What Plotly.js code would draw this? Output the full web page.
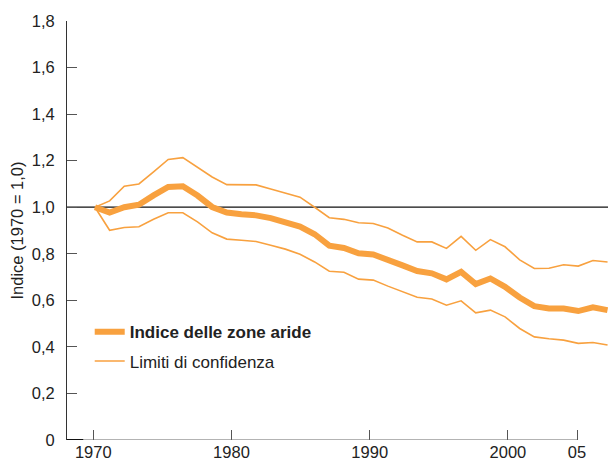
<!DOCTYPE html>
<html>
<head>
<meta charset="utf-8">
<script src="https://cdn.plot.ly/plotly-3.0.1.min.js"></script>
<style>html,body{margin:0;padding:0;background:#fff;}#chart{width:614px;height:461px;}</style>
</head>
<body>
<div id="chart"></div>
<script>
const years = [1970,1971,1972,1973,1974,1975,1976,1977,1978,1979,
  1980,1981,1982,1983,1984,1985,1986,1987,1988,1989,
  1990,1991,1992,1993,1994,1995,1996,1997,1998,1999,
  2000,2001,2002,2003,2004,2005];
const indice = [1.0,0.977,1.0,1.011,1.051,1.087,1.09,1.05,1.001,0.977,
  0.97,0.965,0.953,0.937,0.917,0.884,0.835,0.825,0.802,0.797,
  0.776,0.75,0.726,0.716,0.69,0.722,0.67,0.694,0.658,0.612,
  0.575,0.565,0.565,0.554,0.57,0.558];
const limiteSup = [1.0,1.027,1.09,1.1,1.152,1.205,1.213,1.173,1.13,1.097,
  1.097,1.096,1.078,1.06,1.043,1.0,0.955,0.948,0.933,0.93,
  0.911,0.88,0.851,0.851,0.823,0.875,0.815,0.861,0.83,0.774,
  0.737,0.738,0.753,0.747,0.771,0.765];
const limiteInf = [1.0,0.901,0.913,0.916,0.948,0.976,0.976,0.937,0.89,0.863,
  0.858,0.853,0.837,0.82,0.798,0.765,0.725,0.721,0.691,0.687,
  0.661,0.637,0.613,0.606,0.579,0.598,0.546,0.558,0.529,0.479,
  0.443,0.435,0.429,0.415,0.419,0.408];
const yTickVals = [0,0.2,0.4,0.6,0.8,1.0,1.2,1.4,1.6,1.8];
const yTickText = ['0','0,2','0,4','0,6','0,8','1,0','1,2','1,4','1,6','1,8'];
const xTickVals = [1970,1980,1990,2000,2005];
const xTickText = ['1970','1980','1990','2000','05'];

const orange = '#F8A13F';
const font = 'Liberation Sans, Arial, Helvetica, sans-serif';

const traces = [
  {x: years, y: limiteSup, type: 'scatter', mode: 'lines', name: 'Limiti di confidenza',
   line: {color: orange, width: 1.6}, legendgroup: 'lim', legendrank: 2, showlegend: true, hoverinfo: 'skip'},
  {x: years, y: limiteInf, type: 'scatter', mode: 'lines', name: 'Limiti di confidenza',
   line: {color: orange, width: 1.6}, legendgroup: 'lim', legendrank: 2, showlegend: false, hoverinfo: 'skip'},
  {x: years, y: indice, type: 'scatter', mode: 'lines', name: '<b>Indice delle zone aride</b>',
   line: {color: orange, width: 6}, legendgroup: 'idx', legendrank: 1, hoverinfo: 'skip'}
];

const layout = {
  width: 614, height: 461,
  margin: {l: 67, r: 6, t: 21, b: 21, pad: 0},
  paper_bgcolor: '#fff', plot_bgcolor: '#fff',
  font: {family: font, size: 16.5, color: '#222'},
  showlegend: true,
  legend: {x: 0.042, y: 0.3, xanchor: 'left', yanchor: 'top', bgcolor: 'rgba(0,0,0,0)',
    font: {family: font, size: 17, color: '#222'}, tracegroupgap: 4},
  xaxis: {range: [1968.09, 2005.03], visible: false, fixedrange: true},
  xaxis2: {overlaying: 'x', anchor: 'y', range: [1968.1, 2007.24], tickmode: 'array',
    tickvals: xTickVals, ticktext: xTickText, ticks: 'inside', ticklen: 10, tickwidth: 1,
    tickcolor: '#555', showgrid: false, zeroline: false, showline: false,
    tickfont: {family: font, size: 16.5, color: '#222'}},
  yaxis: {range: [0, 1.8], tickmode: 'array', tickvals: yTickVals, ticktext: yTickText,
    ticks: 'inside', ticklen: 10, tickwidth: 1, tickcolor: '#555', showgrid: false,
    zeroline: false, showline: true, linecolor: '#333', linewidth: 1,
    ticklabelstandoff: 8,
    tickfont: {family: font, size: 16.5, color: '#222'},
    title: {text: 'Indice (1970 = 1,0)', font: {family: font, size: 16.5, color: '#222'}, standoff: 3}},
  shapes: [
    {type: 'line', xref: 'paper', yref: 'y', x0: 0, x1: 1, y0: 1, y1: 1,
     line: {color: '#111', width: 1.2}, layer: 'below'},
    {type: 'line', xref: 'x2', yref: 'y', x0: 1968.1, x1: 2005, y0: 0, y1: 0,
     line: {color: '#666', width: 1}},
    {type: 'line', xref: 'paper', yref: 'y', x0: 0, x1: 0.03, y0: 0, y1: 0,
     line: {color: '#111', width: 2}}
  ]
};

Plotly.newPlot('chart', traces, layout, {staticPlot: true, displayModeBar: false});
</script>
</body>
</html>
